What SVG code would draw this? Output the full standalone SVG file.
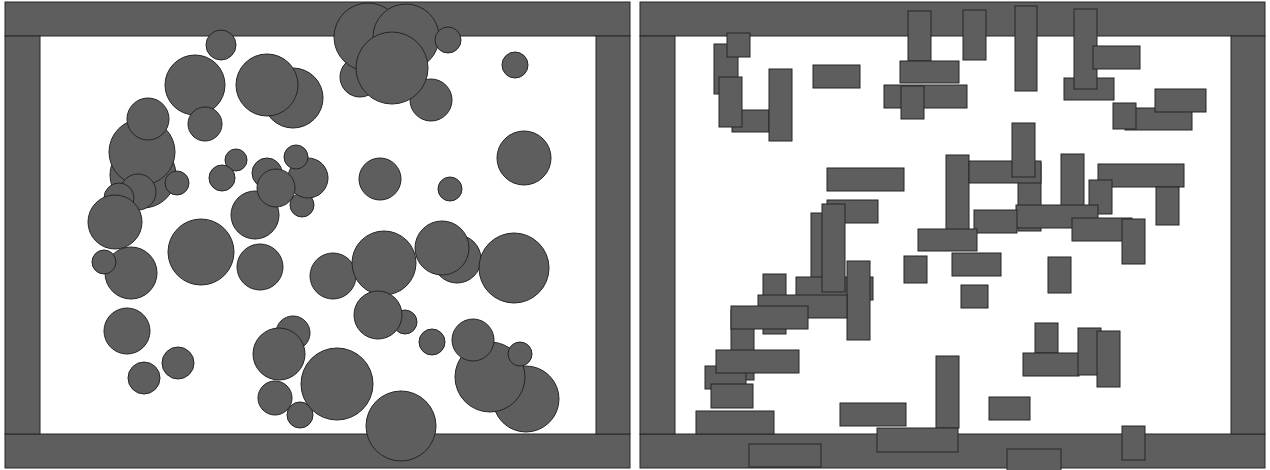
<svg xmlns="http://www.w3.org/2000/svg" width="1270" height="470" viewBox="0 0 1270 470">
<style>
rect, circle { fill: #5e5e5e; stroke: #262626; stroke-width: 1; }
</style>
<rect x="0" y="0" width="1270" height="470" style="fill:#ffffff;stroke:none"/>
<g id="left-panel">
  <g id="left-walls">
    <rect x="5" y="2" width="625" height="34"/>
    <rect x="5" y="434" width="625" height="34"/>
    <rect x="5" y="36" width="35" height="398"/>
    <rect x="596" y="36" width="34" height="398"/>
  </g>
  <g id="left-circles">
    <circle cx="221" cy="45" r="15"/>
    <circle cx="195" cy="85" r="30"/>
    <circle cx="205" cy="124" r="17"/>
    <circle cx="293" cy="98" r="30"/>
    <circle cx="267" cy="85" r="31"/>
    <circle cx="143" cy="175" r="33"/>
    <circle cx="142" cy="152" r="33"/>
    <circle cx="148" cy="119" r="21"/>
    <circle cx="177" cy="183" r="12"/>
    <circle cx="138" cy="192" r="18"/>
    <circle cx="119" cy="198" r="15"/>
    <circle cx="115" cy="222" r="27"/>
    <circle cx="236" cy="160" r="11"/>
    <circle cx="222" cy="178" r="13"/>
    <circle cx="302" cy="205" r="12"/>
    <circle cx="308" cy="178" r="20"/>
    <circle cx="255" cy="215" r="24"/>
    <circle cx="267" cy="173" r="15"/>
    <circle cx="276" cy="188" r="19"/>
    <circle cx="296" cy="157" r="12"/>
    <circle cx="360" cy="77" r="20"/>
    <circle cx="431" cy="100" r="21"/>
    <circle cx="368" cy="37" r="34"/>
    <circle cx="406" cy="37" r="33"/>
    <circle cx="392" cy="68" r="36"/>
    <circle cx="448" cy="40" r="13"/>
    <circle cx="515" cy="65" r="13"/>
    <circle cx="524" cy="158" r="27"/>
    <circle cx="380" cy="179" r="21"/>
    <circle cx="450" cy="189" r="12"/>
    <circle cx="131" cy="273" r="26"/>
    <circle cx="104" cy="262" r="12"/>
    <circle cx="201" cy="252" r="33"/>
    <circle cx="260" cy="267" r="23"/>
    <circle cx="127" cy="331" r="23"/>
    <circle cx="178" cy="363" r="16"/>
    <circle cx="144" cy="378" r="16"/>
    <circle cx="293" cy="333" r="17"/>
    <circle cx="279" cy="354" r="26"/>
    <circle cx="275" cy="398" r="17"/>
    <circle cx="300" cy="415" r="13"/>
    <circle cx="337" cy="384" r="36"/>
    <circle cx="333" cy="276" r="23"/>
    <circle cx="384" cy="263" r="32"/>
    <circle cx="457" cy="259" r="24"/>
    <circle cx="442" cy="248" r="27"/>
    <circle cx="514" cy="268" r="35"/>
    <circle cx="405" cy="322" r="12"/>
    <circle cx="378" cy="315" r="24"/>
    <circle cx="432" cy="342" r="13"/>
    <circle cx="526" cy="399" r="33"/>
    <circle cx="490" cy="377" r="35"/>
    <circle cx="473" cy="340" r="21"/>
    <circle cx="520" cy="354" r="12"/>
    <circle cx="401" cy="426" r="35"/>
  </g>
</g>
<g id="right-panel">
  <g id="right-walls">
    <rect x="640" y="2" width="625" height="34"/>
    <rect x="640" y="434" width="625" height="34"/>
    <rect x="640" y="36" width="35" height="398"/>
    <rect x="1231" y="36" width="34" height="398"/>
  </g>
  <g id="right-blocks">
    <rect x="714" y="44" width="24" height="50"/>
    <rect x="732" y="110" width="37" height="22"/>
    <rect x="727" y="33" width="23" height="24"/>
    <rect x="719" y="77" width="23" height="50"/>
    <rect x="769" y="69" width="23" height="72"/>
    <rect x="813" y="65" width="47" height="23"/>
    <rect x="908" y="11" width="23" height="50"/>
    <rect x="900" y="61" width="59" height="22"/>
    <rect x="884" y="85" width="83" height="23"/>
    <rect x="901" y="86" width="23" height="33"/>
    <rect x="963" y="10" width="23" height="50"/>
    <rect x="1015" y="6" width="22" height="85"/>
    <rect x="1064" y="78" width="50" height="22"/>
    <rect x="1074" y="9" width="23" height="80"/>
    <rect x="1093" y="46" width="47" height="23"/>
    <rect x="1125" y="108" width="67" height="22"/>
    <rect x="1113" y="103" width="23" height="26"/>
    <rect x="1155" y="89" width="51" height="23"/>
    <rect x="827" y="168" width="77" height="23"/>
    <rect x="811" y="213" width="23" height="70"/>
    <rect x="827" y="200" width="51" height="23"/>
    <rect x="796" y="277" width="77" height="23"/>
    <rect x="822" y="204" width="23" height="88"/>
    <rect x="847" y="261" width="23" height="79"/>
    <rect x="946" y="155" width="23" height="75"/>
    <rect x="1018" y="163" width="23" height="68"/>
    <rect x="969" y="161" width="72" height="22"/>
    <rect x="1012" y="123" width="23" height="54"/>
    <rect x="1061" y="154" width="23" height="53"/>
    <rect x="1098" y="164" width="86" height="23"/>
    <rect x="1089" y="180" width="23" height="34"/>
    <rect x="1156" y="187" width="23" height="38"/>
    <rect x="1016" y="205" width="82" height="23"/>
    <rect x="974" y="210" width="43" height="23"/>
    <rect x="1072" y="218" width="60" height="23"/>
    <rect x="1122" y="219" width="23" height="45"/>
    <rect x="918" y="229" width="59" height="22"/>
    <rect x="952" y="253" width="49" height="23"/>
    <rect x="904" y="256" width="23" height="27"/>
    <rect x="1048" y="257" width="23" height="36"/>
    <rect x="961" y="285" width="27" height="23"/>
    <rect x="763" y="274" width="23" height="60"/>
    <rect x="758" y="295" width="89" height="23"/>
    <rect x="731" y="310" width="23" height="70"/>
    <rect x="731" y="306" width="77" height="23"/>
    <rect x="705" y="366" width="41" height="23"/>
    <rect x="716" y="350" width="83" height="23"/>
    <rect x="711" y="384" width="42" height="24"/>
    <rect x="696" y="411" width="78" height="23"/>
    <rect x="749" y="444" width="72" height="23"/>
    <rect x="840" y="403" width="66" height="23"/>
    <rect x="936" y="356" width="23" height="72"/>
    <rect x="877" y="428" width="81" height="24"/>
    <rect x="1035" y="323" width="23" height="30"/>
    <rect x="1023" y="353" width="56" height="23"/>
    <rect x="1078" y="328" width="23" height="47"/>
    <rect x="1097" y="331" width="23" height="56"/>
    <rect x="989" y="397" width="41" height="23"/>
    <rect x="1122" y="426" width="23" height="34"/>
    <rect x="1007" y="449" width="54" height="22"/>
  </g>
</g>
</svg>
